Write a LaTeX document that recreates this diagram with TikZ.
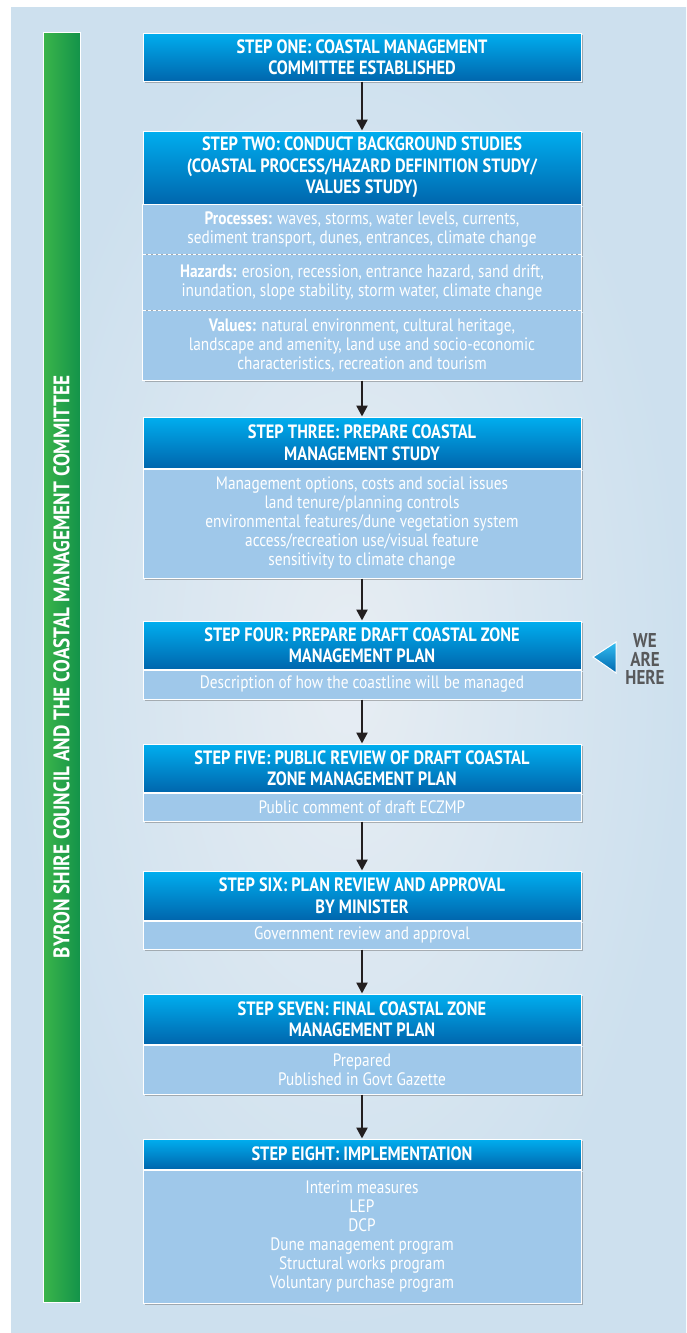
\documentclass[tikz,border=0pt]{standalone}
\usepackage{fontspec}
\setmainfont{PT Sans}[FakeStretch=0.85]
\usetikzlibrary{arrows.meta,shadows}

\definecolor{panelblue}{HTML}{CDE0EE}
\definecolor{panellight}{HTML}{E7EDF3}
\definecolor{headtop}{HTML}{00AEEF}
\definecolor{headbot}{HTML}{0066AD}
\definecolor{bodyblue}{HTML}{9FC8EA}
\definecolor{barlight}{HTML}{3BB54A}
\definecolor{bardark}{HTML}{13934A}
\definecolor{arrowgray}{HTML}{231F20}
\definecolor{heregray}{HTML}{58595B}

\tikzset{
    boxshadow/.style={drop shadow={shadow xshift=2pt, shadow yshift=-2pt, fill=black!60, opacity=.45}},
    stephead/.style={draw=white, line width=1pt, top color=headtop, bottom color=headbot,
        text=white, align=center, minimum width=438pt, inner sep=0pt, boxshadow,
        font=\bfseries\fontsize{19.3}{21.5}\selectfont},
    stepbody/.style={draw=white, line width=1pt, fill=bodyblue, text=white, align=center,
        minimum width=438pt, inner sep=0pt, anchor=north, boxshadow,
        font=\fontsize{18}{19}\selectfont},
    divider/.style={white, line width=.8pt, dash pattern=on 3pt off 2pt},
    flow/.style={line width=2.4pt, draw=arrowgray, -{Triangle[width=11pt,length=11pt]}},
}

\begin{document}
\begin{tikzpicture}[x=1pt, y=-1pt]
    \useasboundingbox (0,0) rectangle (686,1333);

    \coordinate (P1) at (11,7); % top left of the panel
    \coordinate (P2) at (686,1333); % bottom right of the panel
    \coordinate (G1) at (43,32); % green bar
    \coordinate (G2) at (80,1302);

    \shade[inner color=panellight, outer color=panelblue] (P1) rectangle (P2);
    \shade[left color=barlight, right color=bardark, draw=white, line width=.8pt] (G1) rectangle (G2);
    \node[rotate=90, text=white, font=\bfseries\fontsize{22.5}{23}\selectfont] (council) at (61.5,667)
        {BYRON SHIRE COUNCIL AND THE COASTAL MANAGEMENT COMMITTEE};

    % step one
    \node[stephead, minimum height=48pt] (h1) at (362,57)
        {STEP ONE: COASTAL MANAGEMENT\\COMMITTEE ESTABLISHED};

    % step two
    \node[stephead, minimum height=73pt] (h2) at (362,167.5)
        {STEP TWO: CONDUCT BACKGROUND STUDIES\\(COASTAL PROCESS/HAZARD DEFINITION STUDY/\\VALUES STUDY)};
    \node[stepbody, draw=none, minimum height=49pt] (b2a) at (h2.south)
        {\textbf{Processes:} waves, storms, water levels, currents,\\sediment transport, dunes, entrances, climate change};
    \node[stepbody, draw=none, minimum height=55pt] (b2b) at (b2a.south)
        {\textbf{Hazards:} erosion, recession, entrance hazard, sand drift,\\inundation, slope stability, storm water, climate change};
    \node[stepbody, draw=none, minimum height=69pt] (b2c) at (b2b.south)
        {\textbf{Values:} natural environment, cultural heritage,\\landscape and amenity, land use and socio-economic\\characteristics, recreation and tourism};
    \draw[white, line width=1pt] (b2a.north west) rectangle (b2c.south east);
    \draw[divider] (b2a.south west) -- (b2a.south east);
    \draw[divider] (b2b.south west) -- (b2b.south east);

    % step three
    \node[stephead, minimum height=51pt] (h3) at (362,442.5)
        {STEP THREE: PREPARE COASTAL\\MANAGEMENT STUDY};
    \node[stepbody, minimum height=109pt] (b3) at (h3.south)
        {Management options, costs and social issues\\land tenure/planning controls\\environmental features/dune vegetation system\\access/recreation use/visual feature\\sensitivity to climate change};

    % step four
    \node[stephead, minimum height=48pt] (h4) at (362,645)
        {STEP FOUR: PREPARE DRAFT COASTAL ZONE\\MANAGEMENT PLAN};
    \node[stepbody, minimum height=29pt] (b4) at (h4.south)
        {Description of how the coastline will be managed};

    % step five
    \node[stephead, minimum height=48pt] (h5) at (362,768)
        {STEP FIVE: PUBLIC REVIEW OF DRAFT COASTAL\\ZONE MANAGEMENT PLAN};
    \node[stepbody, minimum height=28pt] (b5) at (h5.south)
        {Public comment of draft ECZMP};

    % step six
    \node[stephead, minimum height=49pt] (h6) at (362,895.5)
        {STEP SIX: PLAN REVIEW AND APPROVAL\\BY MINISTER};
    \node[stepbody, minimum height=28pt] (b6) at (h6.south)
        {Government review and approval};

    % step seven
    \node[stephead, minimum height=50pt] (h7) at (362,1019)
        {STEP SEVEN: FINAL COASTAL ZONE\\MANAGEMENT PLAN};
    \node[stepbody, minimum height=49pt] (b7) at (h7.south)
        {Prepared\\Published in Govt Gazette};

    % step eight
    \node[stephead, minimum height=30pt] (h8) at (362,1154)
        {STEP EIGHT: IMPLEMENTATION};
    \node[stepbody, minimum height=133pt] (b8) at (h8.south)
        {Interim measures\\LEP\\DCP\\Dune management program\\Structural works program\\Voluntary purchase program};

    \foreach \a/\b in {h1/h2, b2c/h3, b3/h4, b4/h5, b5/h6, b6/h7, b7/h8}
        \draw[flow] (\a.south) -- (\b.north);

    % we are here
    \shade[top color=headtop!80!white, bottom color=headbot, draw=white, line width=1pt]
        (593,657) -- (616,642) -- (616,673) -- cycle;
    \node[text=heregray, align=center, font=\bfseries\fontsize{20}{18.5}\selectfont] (here) at (645,659)
        {WE\\ARE\\HERE};
\end{tikzpicture}
\end{document}
